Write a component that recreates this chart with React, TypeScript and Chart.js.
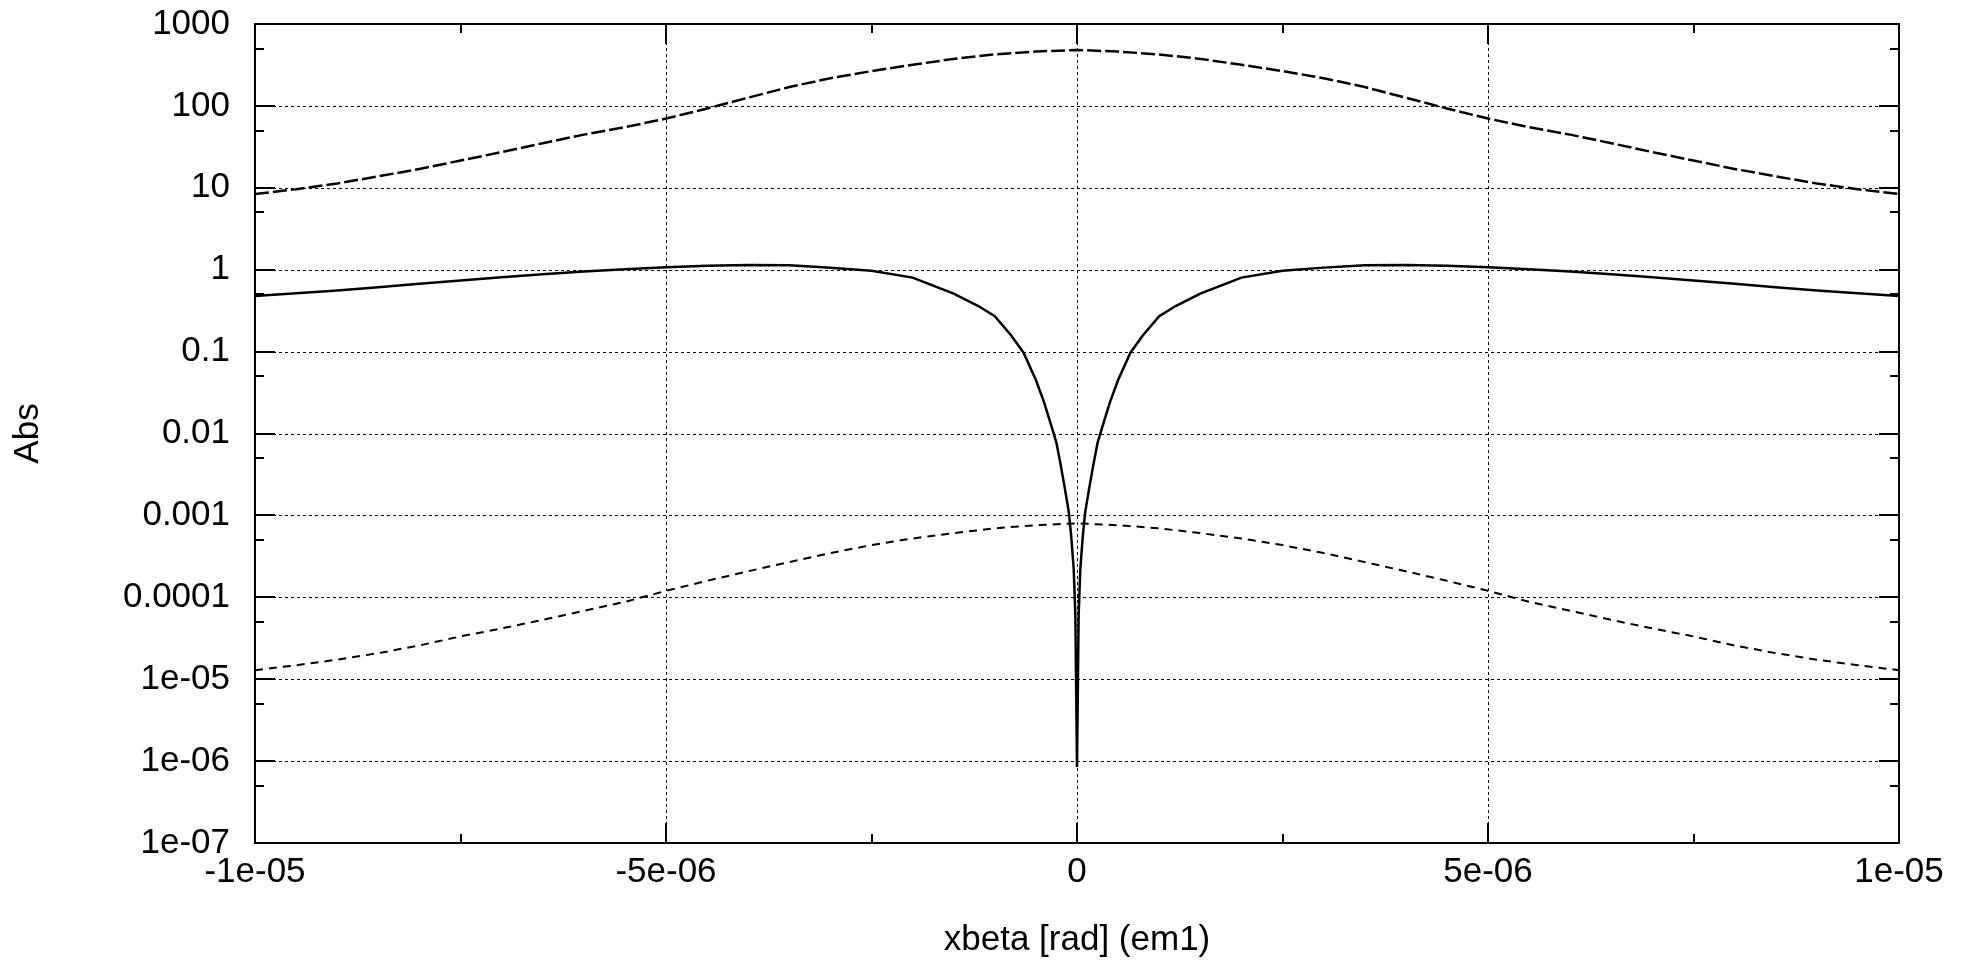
import React, { useEffect, useRef } from "react";
import { Chart, registerables } from "chart.js";

Chart.register(...registerables);

// ---- axis ticks ----
const xTickValues = [-1e-5, -5e-6, 0, 5e-6, 1e-5];
const xTickLabels = ["-1e-05", "-5e-06", "0", "5e-06", "1e-05"];
const xMinorTicks = [-7.5e-6, -2.5e-6, 2.5e-6, 7.5e-6];
const yTickValues = [1e-7, 1e-6, 1e-5, 1e-4, 1e-3, 1e-2, 1e-1, 1, 10, 100, 1000];
const yTickLabels = ["1e-07", "1e-06", "1e-05", "0.0001", "0.001", "0.01", "0.1", "1", "10", "100", "1000"];
const yMinorTicks = [5e-7, 5e-6, 5e-5, 5e-4, 5e-3, 5e-2, 0.5, 5, 50, 500];

// ---- data ----
const xSampled = [
  -10e-6, -9.5e-6, -9e-6, -8.5e-6, -8e-6, -7.5e-6, -7e-6, -6.5e-6, -6e-6, -5.5e-6,
  -5e-6, -4.5e-6, -4e-6, -3.5e-6, -3e-6, -2.5e-6, -2e-6, -1.5e-6, -1e-6, -0.5e-6,
  0,
  0.5e-6, 1e-6, 1.5e-6, 2e-6, 2.5e-6, 3e-6, 3.5e-6, 4e-6, 4.5e-6, 5e-6,
  5.5e-6, 6e-6, 6.5e-6, 7e-6, 7.5e-6, 8e-6, 8.5e-6, 9e-6, 9.5e-6, 10e-6,
];

const upperValues = [
  8.4, 9.6, 11.3, 13.8, 17, 21.5, 27.3, 35, 44.6, 55,
  70, 93, 126, 170, 218, 266, 318, 375, 425, 461,
  482,
  461, 425, 375, 318, 266, 218, 170, 126, 93, 70,
  55, 44.6, 35, 27.3, 21.5, 17, 13.8, 11.3, 9.6, 8.4,
];

const lowerValues = [
  1.29e-5, 1.48e-5, 1.73e-5, 2.08e-5, 2.58e-5, 3.33e-5, 4.17e-5, 5.3e-5, 6.85e-5, 8.8e-5,
  1.2e-4, 1.59e-4, 2.08e-4, 2.69e-4, 3.47e-4, 4.34e-4, 5.22e-4, 6.08e-4, 6.95e-4, 7.59e-4,
  8.0e-4,
  7.59e-4, 6.95e-4, 6.08e-4, 5.22e-4, 4.34e-4, 3.47e-4, 2.69e-4, 2.08e-4, 1.59e-4, 1.2e-4,
  8.8e-5, 6.85e-5, 5.3e-5, 4.17e-5, 3.33e-5, 2.58e-5, 2.08e-5, 1.73e-5, 1.48e-5, 1.29e-5,
];

const solidX = [
  -10e-6, -9.5e-6, -9e-6, -8.5e-6, -8e-6, -7.5e-6, -7e-6, -6.5e-6, -6e-6, -5.5e-6,
  -5e-6, -4.5e-6, -4e-6, -3.5e-6, -3e-6, -2.5e-6, -2e-6, -1.5e-6, -1.2e-6, -1e-6,
  -0.8e-6, -0.65e-6, -0.5e-6, -0.4e-6, -0.3e-6, -0.25e-6, -0.2e-6, -0.15e-6, -0.1e-6, -0.07e-6,
  -0.04e-6, -0.02e-6,
  0,
  0.02e-6, 0.04e-6,
  0.07e-6, 0.1e-6, 0.15e-6, 0.2e-6, 0.25e-6, 0.3e-6, 0.4e-6, 0.5e-6, 0.65e-6, 0.8e-6,
  1e-6, 1.2e-6, 1.5e-6, 2e-6, 2.5e-6, 3e-6, 3.5e-6, 4e-6, 4.5e-6, 5e-6,
  5.5e-6, 6e-6, 6.5e-6, 7e-6, 7.5e-6, 8e-6, 8.5e-6, 9e-6, 9.5e-6, 10e-6,
];

const solidValues = [
  0.477, 0.515, 0.558, 0.61, 0.672, 0.74, 0.81, 0.88, 0.95, 1.01,
  1.07, 1.12, 1.14, 1.13, 1.06, 0.97, 0.8, 0.51, 0.36, 0.27,
  0.157, 0.097, 0.045, 0.024, 0.0113, 0.0077, 0.0042, 0.0022, 0.0011, 5.5e-4,
  2.2e-4, 6e-5,
  8.5e-7,
  6e-5, 2.2e-4,
  5.5e-4, 0.0011, 0.0022, 0.0042, 0.0077, 0.0113, 0.024, 0.045, 0.097, 0.157,
  0.27, 0.36, 0.51, 0.8, 0.97, 1.06, 1.13, 1.14, 1.12, 1.07,
  1.01, 0.95, 0.88, 0.81, 0.74, 0.672, 0.61, 0.558, 0.515, 0.477,
];

const FONT = "'Liberation Sans', Arial, Helvetica, sans-serif";

const framePlugin = {
  id: "gnuplotFrame",
  beforeDatasetsDraw(chart: any) {
    const { ctx, chartArea: a, scales } = chart;
    const xs = scales.x;
    const ys = scales.y;
    ctx.save();
    ctx.strokeStyle = "#000";
    ctx.lineWidth = 1;
    ctx.setLineDash([3, 3]);
    for (const v of xTickValues) {
      if (v === xTickValues[0] || v === xTickValues[xTickValues.length - 1]) continue;
      const px = Math.round(xs.getPixelForValue(v)) + 0.5;
      ctx.beginPath();
      ctx.moveTo(px, a.top);
      ctx.lineTo(px, a.bottom);
      ctx.stroke();
    }
    for (const v of yTickValues) {
      if (v === yTickValues[0] || v === yTickValues[yTickValues.length - 1]) continue;
      const py = Math.round(ys.getPixelForValue(v)) + 0.5;
      ctx.beginPath();
      ctx.moveTo(a.left, py);
      ctx.lineTo(a.right, py);
      ctx.stroke();
    }
    ctx.restore();
  },
  afterDatasetsDraw(chart: any) {
    const { ctx, chartArea: a, scales } = chart;
    const xs = scales.x;
    const ys = scales.y;
    ctx.save();
    ctx.strokeStyle = "#000";
    ctx.setLineDash([]);
    ctx.lineWidth = 2;
    const major = 20;
    const minor = 9;
    const vTick = (v: number, len: number) => {
      const px = Math.round(xs.getPixelForValue(v));
      ctx.beginPath();
      ctx.moveTo(px, a.bottom);
      ctx.lineTo(px, a.bottom - len);
      ctx.moveTo(px, a.top);
      ctx.lineTo(px, a.top + len);
      ctx.stroke();
    };
    const hTick = (v: number, len: number) => {
      const py = Math.round(ys.getPixelForValue(v));
      ctx.beginPath();
      ctx.moveTo(a.left, py);
      ctx.lineTo(a.left + len, py);
      ctx.moveTo(a.right, py);
      ctx.lineTo(a.right - len, py);
      ctx.stroke();
    };
    xTickValues.forEach((v) => vTick(v, major));
    xMinorTicks.forEach((v) => vTick(v, minor));
    yTickValues.forEach((v) => hTick(v, major));
    yMinorTicks.forEach((v) => hTick(v, minor));
    ctx.strokeRect(Math.round(a.left), Math.round(a.top), Math.round(a.right - a.left), Math.round(a.bottom - a.top));
    ctx.restore();
  },
};

export default function App() {
  const ref = useRef<HTMLCanvasElement | null>(null);

  useEffect(() => {
    if (!ref.current) return;
    const upper = xSampled.map((x, i) => ({ x, y: upperValues[i] }));
    const lower = xSampled.map((x, i) => ({ x, y: lowerValues[i] }));
    const solid = solidX.map((x, i) => ({ x, y: solidValues[i] }));

    const chart = new Chart(ref.current, {
      type: "line",
      data: {
        datasets: [
          {
            label: "upper",
            data: upper,
            borderColor: "#000",
            borderWidth: 2.5,
            borderDash: [14, 4],
            pointRadius: 0,
            tension: 0,
            fill: false,
          },
          {
            label: "solid",
            data: solid,
            borderColor: "#000",
            borderWidth: 2.5,
            pointRadius: 0,
            tension: 0,
            fill: false,
          },
          {
            label: "lower",
            data: lower,
            borderColor: "#000",
            borderWidth: 2,
            borderDash: [8, 6],
            pointRadius: 0,
            tension: 0,
            fill: false,
          },
        ],
      },
      options: {
        responsive: false,
        animation: false,
        devicePixelRatio: 1,
        layout: { padding: { top: 24, right: 77, bottom: 0, left: 0 } },
        plugins: {
          legend: { display: false },
          tooltip: { enabled: false },
        },
        scales: {
          x: {
            type: "linear",
            min: -1e-5,
            max: 1e-5,
            grid: { display: false, drawTicks: false },
            border: { display: false },
            afterBuildTicks: (scale: any) => {
              scale.ticks = xTickValues.map((value) => ({ value }));
            },
            afterFit: (scale: any) => {
              scale.height = 119;
              scale.paddingLeft = 0;
              scale.paddingRight = 0;
            },
            ticks: {
              autoSkip: false,
              maxRotation: 0,
              minRotation: 0,
              padding: 8,
              color: "#000",
              font: { family: FONT, size: 35, lineHeight: 1.2 },
              callback: (_v: any, i: number) => xTickLabels[i],
            },
            title: {
              display: true,
              text: "xbeta [rad] (em1)",
              color: "#000",
              padding: { top: 0, bottom: 1 },
              font: { family: FONT, size: 35, lineHeight: 1.2 },
            },
          },
          y: {
            type: "logarithmic",
            min: 1e-7,
            max: 1000,
            grid: { display: false, drawTicks: false },
            border: { display: false },
            afterBuildTicks: (scale: any) => {
              scale.ticks = yTickValues.map((value) => ({ value }));
            },
            afterFit: (scale: any) => {
              scale.width = 255;
              scale.paddingTop = 0;
              scale.paddingBottom = 0;
            },
            ticks: {
              autoSkip: false,
              padding: 25,
              color: "#000",
              font: { family: FONT, size: 35, lineHeight: 1.2 },
              callback: (_v: any, i: number) => yTickLabels[i],
            },
            title: {
              display: true,
              text: "Abs",
              color: "#000",
              padding: { top: 7, bottom: 0 },
              font: { family: FONT, size: 35, lineHeight: 1.2 },
            },
          },
        },
      },
      plugins: [framePlugin],
    });
    return () => chart.destroy();
  }, []);

  return (
    <div style={{ position: "fixed", left: 0, top: 0, width: 1976, height: 962, background: "#fff" }}>
      <canvas ref={ref} width={1976} height={962} style={{ width: 1976, height: 962, display: "block" }} />
    </div>
  );
}
